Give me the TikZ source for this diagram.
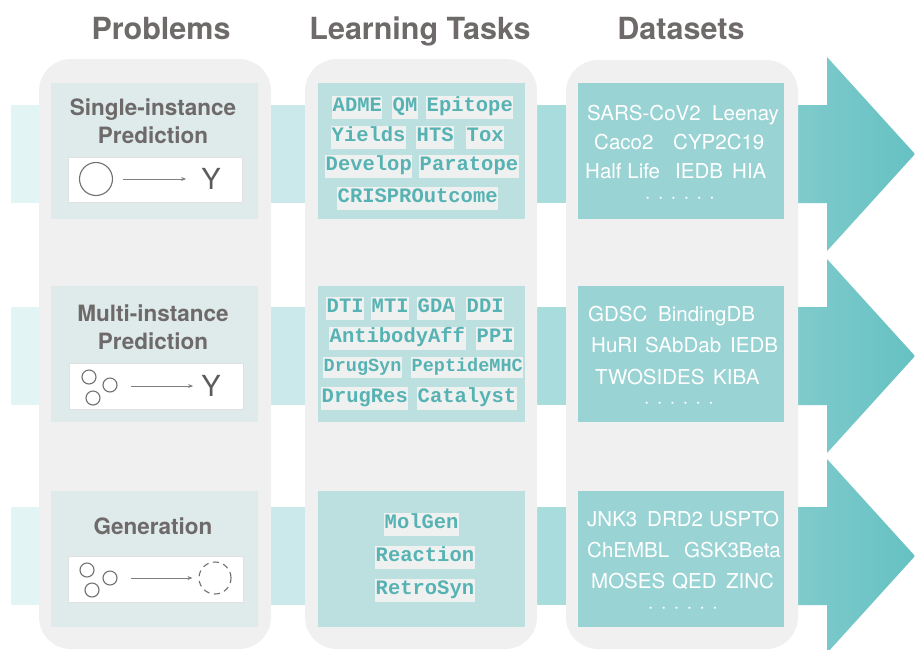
\documentclass[tikz,border=0pt]{standalone}
\usepackage{fontspec}
\setmainfont{TeX Gyre Heros}
\newfontfamily\monof{Liberation Mono}
\usetikzlibrary{arrows.meta}
\definecolor{hdr}{HTML}{6E6A6A}
\definecolor{colbg}{HTML}{F0F0F0}
\definecolor{boxA}{HTML}{DFEAEA}
\definecolor{boxB}{HTML}{BCDFE0}
\definecolor{boxC}{HTML}{9AD3D4}
\definecolor{bandA}{HTML}{E2F4F4}
\definecolor{bandB}{HTML}{CBE9EA}
\definecolor{bandC}{HTML}{A9DCDD}
\definecolor{arrL}{HTML}{80CBCC}
\definecolor{arrR}{HTML}{66C1C2}
\definecolor{tasktxt}{HTML}{57B3B3}
\definecolor{taskbg}{HTML}{EFF1F1}
\definecolor{ygray}{HTML}{5C5C5C}
\definecolor{cgray}{HTML}{707070}
\tikzset{
  header/.style={text=hdr, font=\bfseries\fontsize{30.5}{36}\selectfont, anchor=base, inner sep=0pt},
  ptitle/.style={text=hdr, font=\bfseries\fontsize{22.5}{27}\selectfont, anchor=base, inner sep=0pt},
  inbox/.style={minimum height=136pt, inner sep=0pt},
  wbox/.style={fill=white, draw=black!12, line width=0.6pt, inner sep=0pt},
  bigc/.style={circle, draw=cgray, line width=1.1pt, minimum size=33pt, inner sep=0pt},
  smallc/.style={circle, draw=cgray, line width=1.1pt, minimum size=14pt, inner sep=0pt},
  yletter/.style={text=ygray, font=\fontsize{29}{34}\selectfont, inner sep=0pt},
  sarrow/.style={draw=cgray!90, line width=0.8pt, -{Stealth[length=5pt,width=4pt]}},
  task/.style={fill=taskbg, text=tasktxt, font=\monof\bfseries\fontsize{20.5}{24}\selectfont,
    inner xsep=0.5pt, inner ysep=2pt, text height=14pt, text depth=5pt, anchor=west},
  tasks/.style={task, font=\monof\bfseries\fontsize{18.5}{22}\selectfont, text height=12.5pt, text depth=4.5pt},
  ds/.style={text=white, font=\fontsize{20.5}{25}\selectfont, inner sep=0pt, anchor=base west},
  dots/.style={text=white, font=\fontsize{21}{25}\selectfont, inner sep=0pt, anchor=base},
}
\newcommand{\sixdots}{·\hspace{7pt}·\hspace{7pt}·\hspace{7pt}·\hspace{7pt}·\hspace{7pt}·}
\begin{document}
\begin{tikzpicture}[x=1pt,y=-1pt]
\useasboundingbox (0,0) rectangle (915,649);
% bands and arrows
\foreach \c in {154,356,556} {
  \fill[bandA] (11,\c-49) rectangle (45,\c+49);
  \fill[bandB] (265,\c-49) rectangle (311,\c+49);
  \fill[bandC] (531,\c-49) rectangle (572,\c+49);
  \shade[left color=arrL, right color=arrR] (792,\c-49) -- (827,\c-49) -- (827,\c-97) -- (915,\c) -- (827,\c+97) -- (827,\c+49) -- (792,\c+49) -- cycle;
}
% columns
\fill[colbg, rounded corners=32pt] (39,59) rectangle (271,649);
\fill[colbg, rounded corners=32pt] (305,59) rectangle (537,649);
\fill[colbg, rounded corners=32pt] (566,60) rectangle (798,649);
% headers
\node[header] (hp) at (161,39) {Problems};
\node[header] (hl) at (420,39) {Learning Tasks};
\node[header] (hd) at (681,39) {Datasets};
% inner boxes
\node[inbox, fill=boxA, minimum width=207pt] (pa) at (154.5,151) {};
\node[inbox, fill=boxA, minimum width=207pt] (pb) at (154.5,354) {};
\node[inbox, fill=boxA, minimum width=207pt] (pc) at (154.5,559) {};
\node[inbox, fill=boxB, minimum width=207pt] (ta) at (421.5,151) {};
\node[inbox, fill=boxB, minimum width=207pt] (tb) at (421.5,354) {};
\node[inbox, fill=boxB, minimum width=207pt] (tc) at (421.5,559) {};
\node[inbox, fill=boxC, minimum width=206pt] (da) at (681,151) {};
\node[inbox, fill=boxC, minimum width=206pt] (db) at (681,354) {};
\node[inbox, fill=boxC, minimum width=206pt] (dc) at (681,559) {};
% problem titles
\node[ptitle] (t1a) at (153,115) {Single-instance};
\node[ptitle] (t1b) at (153,143) {Prediction};
\node[ptitle] (t2a) at (153,321) {Multi-instance};
\node[ptitle] (t2b) at (153,349) {Prediction};
\node[ptitle] (t3a) at (153,534) {Generation};
% white boxes
\node[wbox, minimum width=174pt, minimum height=45pt] (w1) at (155,179.5) {};
\node[wbox, minimum width=174pt, minimum height=46pt] (w2) at (156,386) {};
\node[wbox, minimum width=175pt, minimum height=46pt] (w3) at (155.5,579) {};
% row 1 icon
\node[bigc] (c1) at (96,179) {};
\node[yletter] (y1) at (211,179) {Y};
\draw[sarrow, shorten <=10pt, shorten >=15pt] (c1.east) -- (c1.east -| y1.west);
% row 2 icon
\node[smallc] (m1) at (89,377) {};
\node[smallc] (m2) at (110,385) {};
\node[smallc] (m3) at (93,398) {};
\node[yletter] (y2) at (211,386) {Y};
\draw[sarrow, shorten <=13pt, shorten >=8pt] (m2.east |- y2.west) -- (y2.west);
% row 3 icon
\node[smallc] (g1) at (87,570) {};
\node[smallc] (g2) at (110,578) {};
\node[smallc] (g3) at (92,590) {};
\node[circle, draw=cgray, line width=1.1pt, dash pattern=on 6pt off 4.6pt, minimum size=32pt, inner sep=0pt] (gd) at (215,578) {};
\draw[sarrow, shorten <=13pt, shorten >=6pt] (g2.east |- gd.west) -- (gd.west);
% learning tasks row 1
\node[task] (k1) at (332,107) {ADME};
\node[task] (k2) at (392,107) {QM};
\node[task] (k3) at (426,107) {Epitope};
\node[task] (k4) at (331,137) {Yields};
\node[task] (k5) at (416,137) {HTS};
\node[task] (k6) at (466,137) {Tox};
\node[task] (k7) at (325,166) {Develop};
\node[task] (k8) at (419,166) {Paratope};
\node[task] (k9) at (337,198) {CRISPROutcome};
% learning tasks row 2
\node[task] (l1) at (326,308) {DTI};
\node[task] (l2) at (371,308) {MTI};
\node[task] (l3) at (417,308) {GDA};
\node[task] (l4) at (466,308) {DDI};
\node[task] (l5) at (329,338) {AntibodyAff};
\node[task] (l6) at (476,338) {PPI};
\node[tasks] (l7) at (323,367) {DrugSyn};
\node[tasks] (l8) at (411,367) {PeptideMHC};
\node[task] (l9) at (321,398) {DrugRes};
\node[task] (l10) at (417,398) {Catalyst};
% learning tasks row 3
\node[task] (n1) at (384,524) {MolGen};
\node[task] (n2) at (375,557) {Reaction};
\node[task] (n3) at (375,590) {RetroSyn};
% datasets row 1
\node[ds] (d11) at (587,120) {SARS-CoV2};
\node[ds] (d12) at (712,120) {Leenay};
\node[ds] (d13) at (594,149) {Caco2};
\node[ds] (d14) at (673,149) {CYP2C19};
\node[ds] (d15) at (585,178) {Half Life};
\node[ds] (d16) at (675,178) {IEDB};
\node[ds] (d17) at (732,178) {HIA};
\node[dots] (d18) at (680,203) {\sixdots};
% datasets row 2
\node[ds] (d21) at (588,321) {GDSC};
\node[ds] (d22) at (658,321) {BindingDB};
\node[ds] (d23) at (591,352) {HuRI};
\node[ds] (d24) at (645,352) {SAbDab};
\node[ds] (d25) at (730,352) {IEDB};
\node[ds] (d26) at (595,384) {TWOSIDES};
\node[ds] (d27) at (713,384) {KIBA};
\node[dots] (d28) at (679,408) {\sixdots};
% datasets row 3
\node[ds] (d31) at (587,526) {JNK3};
\node[ds] (d32) at (647,526) {DRD2};
\node[ds] (d33) at (709,526) {USPTO};
\node[ds] (d34) at (587,557) {ChEMBL};
\node[ds] (d35) at (684,557) {GSK3Beta};
\node[ds] (d36) at (591,588) {MOSES};
\node[ds] (d37) at (672,588) {QED};
\node[ds] (d38) at (726,588) {ZINC};
\node[dots] (d39) at (683,613) {\sixdots};
\end{tikzpicture}
\end{document}
